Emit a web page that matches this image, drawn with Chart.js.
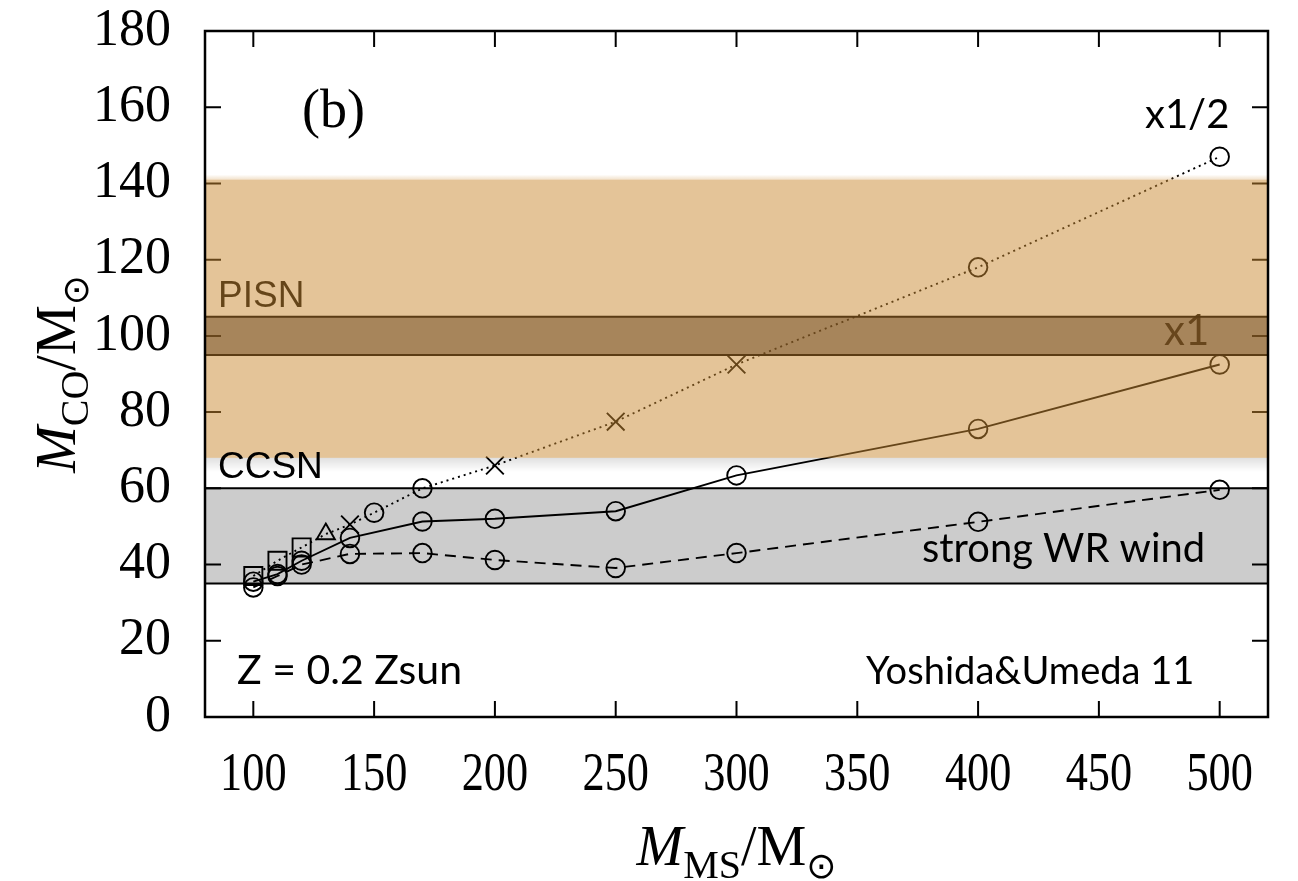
<!DOCTYPE html>
<html>
<head>
<meta charset="utf-8">
<script src="https://cdn.jsdelivr.net/npm/chart.js@4.4.1/dist/chart.umd.min.js"></script>
<style>
  html, body { margin: 0; padding: 0; background: #fff; }
  #wrap { width: 1298px; height: 881px; }
</style>
</head>
<body>
<div id="wrap"><canvas id="chart" width="1298" height="881"></canvas></div>
<script>
// x1/2 mass-loss run (dotted line), marker shape changes along the track
const halfMass  = [100, 110, 120, 130, 140, 150, 170, 200, 250, 300, 400, 500];
const halfCO    = [37, 41, 44.5, 48, 50.5, 53.6, 60, 66, 77.5, 92.5, 118, 147];
const halfMarks = ['rect', 'rect', 'rect', 'triangle', 'crossRot', 'circle', 'circle',
                   'crossRot', 'crossRot', 'crossRot', 'circle', 'circle'];

// x1 run (solid line)
const oneMass = [100, 110, 120, 140, 170, 200, 250, 300, 400, 500];
const oneCO   = [35.5, 37.5, 41, 47, 51.3, 52, 54, 63.4, 75.6, 92.5];

// strong WR wind run (dashed line)
const wrMass = [100, 110, 120, 140, 170, 200, 250, 300, 400, 500];
const wrCO   = [34, 37, 40, 42.8, 43, 41.2, 39.1, 43, 51.2, 59.6];

// shaded ranges of M_CO
const pisnRange = [68, 141];
const pisnCore  = [95, 105];
const wrRange   = [35, 60];

const xTicks = [100, 150, 200, 250, 300, 350, 400, 450, 500];
const yTicks = [0, 20, 40, 60, 80, 100, 120, 140, 160, 180];

const SERIF = '"Liberation Serif", "Times New Roman", serif';
const GILL  = 'Lato, "Open Sans", sans-serif';
const ARIAL = '"Liberation Sans", Arial, sans-serif';
const markRadius = { circle: 9.3, rect: 12.8, triangle: 10.5, crossRot: 12.5 };

function pts(xs, ys) { return xs.map((x, i) => ({ x: x, y: ys[i] })); }

function yRange(chart, r) {
  const y = chart.scales.y;
  return [y.getPixelForValue(r[1]), y.getPixelForValue(r[0])];
}

function fitText(ctx, text, family, width, x, y) {
  ctx.font = '100px ' + family;
  const size = 100 * width / ctx.measureText(text).width;
  ctx.font = size.toFixed(1) + 'px ' + family;
  ctx.fillText(text, x, y);
}

// pieces: [text, font, baseline shift]
function drawPieces(ctx, pieces, cx, y) {
  let total = 0;
  pieces.forEach(p => { ctx.font = p[1]; total += ctx.measureText(p[0]).width; });
  let x = cx - total / 2;
  ctx.textAlign = 'left';
  ctx.textBaseline = 'alphabetic';
  pieces.forEach(p => {
    ctx.font = p[1];
    ctx.fillText(p[0], x, y + p[2]);
    x += ctx.measureText(p[0]).width;
  });
}

const decor = {
  id: 'decor',
  beforeDatasetsDraw(chart) {
    const { ctx, chartArea: a } = chart;
    const [t, b] = yRange(chart, wrRange);
    ctx.save();
    ctx.fillStyle = '#cccccc';
    ctx.fillRect(a.left, t, a.right - a.left, b - t);
    ctx.strokeStyle = '#000';
    ctx.lineWidth = 2;
    ctx.beginPath();
    ctx.moveTo(a.left, t); ctx.lineTo(a.right, t);
    ctx.moveTo(a.left, b); ctx.lineTo(a.right, b);
    ctx.stroke();
    ctx.restore();
  },
  afterDatasetsDraw(chart) {
    const { ctx, chartArea: a, scales } = chart;
    const w = a.right - a.left;
    ctx.save();

    // inward ticks on all four sides
    ctx.strokeStyle = '#000';
    ctx.lineWidth = 2;
    ctx.beginPath();
    scales.y.ticks.forEach(t => {
      const p = scales.y.getPixelForValue(t.value);
      ctx.moveTo(a.left, p); ctx.lineTo(a.left + 16, p);
      ctx.moveTo(a.right, p); ctx.lineTo(a.right - 16, p);
    });
    scales.x.ticks.forEach(t => {
      const p = scales.x.getPixelForValue(t.value);
      ctx.moveTo(p, a.bottom); ctx.lineTo(p, a.bottom - 16);
      ctx.moveTo(p, a.top); ctx.lineTo(p, a.top + 16);
    });
    ctx.stroke();

    // labels sitting under the PISN shading
    ctx.fillStyle = '#000';
    ctx.textAlign = 'left';
    ctx.textBaseline = 'alphabetic';
    ctx.font = '37px ' + ARIAL;
    ctx.fillText('PISN', 218, 307);
    ctx.font = '42px ' + GILL;
    ctx.fillText('x1', 1164, 345);

    // PISN shading
    const [ot, ob] = yRange(chart, pisnRange);
    ctx.fillStyle = 'rgba(201,137,49,0.5)';
    ctx.fillRect(a.left, ot, w, ob - ot);
    let g = ctx.createLinearGradient(0, ot - 5, 0, ot);
    g.addColorStop(0, 'rgba(201,137,49,0)');
    g.addColorStop(1, 'rgba(201,137,49,0.25)');
    ctx.fillStyle = g;
    ctx.fillRect(a.left, ot - 5, w, 5);
    g = ctx.createLinearGradient(0, ob, 0, ob + 14);
    g.addColorStop(0, 'rgba(0,0,0,0.12)');
    g.addColorStop(1, 'rgba(0,0,0,0)');
    ctx.fillStyle = g;
    ctx.fillRect(a.left, ob, w, 14);

    const [ct, cb] = yRange(chart, pisnCore);
    ctx.fillStyle = 'rgba(108,72,32,0.5)';
    ctx.fillRect(a.left, ct, w, cb - ct);
    ctx.strokeStyle = '#5b3c14';
    ctx.lineWidth = 2;
    ctx.beginPath();
    ctx.moveTo(a.left, ct); ctx.lineTo(a.right, ct);
    ctx.moveTo(a.left, cb); ctx.lineTo(a.right, cb);
    ctx.stroke();

    // remaining labels
    ctx.fillStyle = '#000';
    ctx.font = '37px ' + ARIAL;
    ctx.fillText('CCSN', 218, 478);
    ctx.font = '54px ' + SERIF;
    ctx.fillText('(b)', 302, 127);
    ctx.font = '40px ' + GILL;
    ctx.fillText('x1/2', 1145, 128);
    fitText(ctx, 'strong WR wind', GILL, 283, 922, 562);
    fitText(ctx, 'Z = 0.2 Zsun', GILL, 225, 237, 684);
    fitText(ctx, 'Yoshida&Umeda 11', GILL, 329, 866, 684);

    // frame
    ctx.strokeStyle = '#000';
    ctx.lineWidth = 2.5;
    ctx.strokeRect(a.left, a.top, w, a.bottom - a.top);
    ctx.restore();
  },
  afterDraw(chart) {
    const { ctx, chartArea: a, scales } = chart;
    ctx.save();
    ctx.fillStyle = '#000';

    // x tick labels, condensed like the original
    ctx.font = '54px ' + SERIF;
    ctx.textAlign = 'center';
    ctx.textBaseline = 'alphabetic';
    scales.x.ticks.forEach(t => {
      ctx.save();
      ctx.translate(scales.x.getPixelForValue(t.value), 790);
      ctx.scale(0.82, 1);
      ctx.fillText(String(t.value), 0, 0);
      ctx.restore();
    });

    // axis titles
    const dot = '36px "DejaVu Sans", sans-serif';
    drawPieces(ctx, [
      ['M', 'italic 56px ' + SERIF, 0],
      ['MS', '40px ' + SERIF, 13],
      ['/M', '56px ' + SERIF, 0],
      ['\u2299', dot, 13]
    ], (a.left + a.right) / 2, 865);

    ctx.save();
    ctx.translate(75, (a.top + a.bottom) / 2);
    ctx.rotate(-Math.PI / 2);
    drawPieces(ctx, [
      ['M', 'italic 56px ' + SERIF, 0],
      ['CO', '40px ' + SERIF, 13],
      ['/M', '56px ' + SERIF, 0],
      ['\u2299', dot, 13]
    ], 0, 0);
    ctx.restore();
    ctx.restore();
  }
};

function lineSet(xs, ys, marks, dash) {
  return {
    data: pts(xs, ys),
    borderColor: '#000',
    borderWidth: 1.9,
    borderDash: dash,
    pointStyle: marks,
    pointRadius: marks.map(m => markRadius[m]),
    pointBorderColor: '#000',
    pointBackgroundColor: 'rgba(0,0,0,0)',
    pointBorderWidth: 1.9,
    tension: 0,
    fill: false
  };
}

new Chart(document.getElementById('chart'), {
  type: 'line',
  data: {
    datasets: [
      lineSet(halfMass, halfCO, halfMarks, [2, 4]),
      lineSet(oneMass, oneCO, oneMass.map(() => 'circle'), []),
      lineSet(wrMass, wrCO, wrMass.map(() => 'circle'), [11, 7])
    ]
  },
  options: {
    responsive: false,
    animation: false,
    layout: { padding: { top: 31, right: 30, left: 0, bottom: 0 } },
    plugins: { legend: { display: false }, tooltip: { enabled: false } },
    scales: {
      x: {
        type: 'linear', min: 80, max: 520,
        afterBuildTicks: s => { s.ticks = xTicks.map(v => ({ value: v })); },
        afterFit: s => { s.height = 164; s.paddingLeft = 0; s.paddingRight = 0; },
        grid: { display: false, drawTicks: false },
        border: { display: false },
        ticks: { display: false }
      },
      y: {
        type: 'linear', min: 0, max: 180,
        afterBuildTicks: s => { s.ticks = yTicks.map(v => ({ value: v })); },
        afterFit: s => { s.width = 205; s.paddingTop = 0; s.paddingBottom = 0; },
        grid: { display: false, drawTicks: false },
        border: { display: false },
        ticks: { color: '#000', padding: 34, font: { family: SERIF, size: 52 } }
      }
    }
  },
  plugins: [decor]
});
</script>
</body>
</html>
